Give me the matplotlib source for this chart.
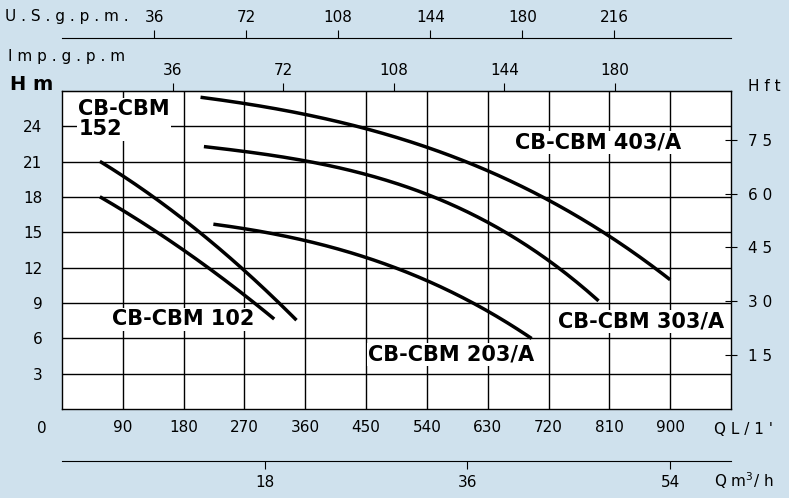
import matplotlib
matplotlib.use("Agg")
import matplotlib.pyplot as plt
import numpy as np

c403_q = [205, 300, 400, 500, 600, 700, 800, 900]
c403_h = [26.5, 25.6, 24.5, 23.0, 21.0, 18.3, 15.0, 11.0]
c303_q = [210, 300, 400, 500, 600, 700, 794]
c303_h = [22.2, 21.8, 20.6, 18.9, 16.7, 13.6, 9.1]
c203_q = [224, 300, 400, 500, 600, 695]
c203_h = [15.7, 15.0, 13.7, 11.9, 9.2, 6.0]
c152_q = [56, 180, 270, 347]
c152_h = [21.0, 16.2, 11.6, 7.6]
c102_q = [56, 180, 250, 314]
c102_h = [18.0, 13.6, 10.4, 7.7]

x_ticks = [90, 180, 270, 360, 450, 540, 630, 720, 810, 900]
y_ticks = [3, 6, 9, 12, 15, 18, 21, 24]
ft_ticks = [15, 30, 45, 60, 75]
imp_ticks = [36, 72, 108, 144, 180]
us_ticks = [36, 72, 108, 144, 180, 216]
m3_ticks = [18, 36, 54]

bg = "#cfe1ed"
fig = plt.figure(figsize=(7.89, 4.98), dpi=100, facecolor=bg)
ax = fig.add_axes([62/789, (498-409)/498, 669/789, 318/498])
ax.set_facecolor("white")
ax.set_xlim(0, 990)
ax.set_ylim(0, 27)
ax.set_xticks(x_ticks)
ax.set_yticks(y_ticks)
ax.grid(True, color="black", lw=1.0)
for s in ax.spines.values():
    s.set_linewidth(1.0)
ax.tick_params(axis="both", labelsize=11, length=0, pad=8)
ax.tick_params(axis="y", pad=14)

def smooth(q, h):
    qq = np.linspace(q[0], q[-1], 200)
    deg = 3 if len(q) > 4 else 2
    p = np.polyfit(q, h, deg)
    return qq, np.polyval(p, qq)

for q, h in [(c403_q, c403_h), (c303_q, c303_h), (c203_q, c203_h), (c152_q, c152_h), (c102_q, c102_h)]:
    qq, hh = smooth(q, h)
    ax.plot(qq, hh, color="black", lw=2.5, solid_capstyle="butt", zorder=5)

lab = dict(fontsize=15, fontweight="bold", color="black", zorder=4, ha="left", va="center",
           bbox=dict(facecolor="white", edgecolor="none", pad=1))
ax.text(24, 24.6, "CB-CBM\n152", linespacing=1.0, **lab)
ax.text(670, 22.6, "CB-CBM 403/A", **lab)
ax.text(734, 7.4, "CB-CBM 303/A", **lab)
ax.text(453, 4.6, "CB-CBM 203/A", **lab)
ax.text(74, 7.6, "CB-CBM 102", **lab)

ft2m = lambda f: f * 0.3048
m2ft = lambda m: m / 0.3048
r = ax.secondary_yaxis("right", functions=(m2ft, ft2m))
r.set_yticks(ft_ticks)
r.set_yticklabels(["1 5", "3 0", "4 5", "6 0", "7 5"])
r.tick_params(labelsize=11, length=8, direction="inout", pad=8)
r.spines["right"].set_visible(False)

t = ax.secondary_xaxis("top", functions=(lambda q: q/4.546, lambda g: g*4.546))
t.set_xticks(imp_ticks)
t.tick_params(labelsize=11, length=6, direction="out", pad=3)

u = ax.secondary_xaxis((409-38)/318, functions=(lambda q: q/3.785, lambda g: g*3.785))
u.set_xticks(us_ticks)
u.tick_params(labelsize=11, length=6, direction="out", pad=3)

b = ax.secondary_xaxis(-(461-409)/318, functions=(lambda q: q*0.06, lambda m: m/0.06))
b.set_xticks(m3_ticks)
b.tick_params(labelsize=11, length=6, direction="out", pad=4)

ft = dict(fontsize=11, color="black")
fig.text(5/789, 1-17/498, "U . S . g . p . m .", va="center", ha="left", **ft)
fig.text(8/789, 1-57/498, "I m p . g . p . m", va="center", ha="left", **ft)
fig.text(10/789, 1-84/498, "H m", va="center", ha="left", fontsize=14, fontweight="bold")
fig.text(748/789, 1-86/498, "H f t", va="center", ha="left", **ft)
fig.text(42/789, 1-428/498, "0", va="center", ha="center", **ft)
fig.text(714/789, 1-430/498, "Q L / 1 '", va="center", ha="left", **ft)
fig.text(714/789, 1-481/498, "Q m$^3$/ h", va="center", ha="left", **ft)

fig.savefig("out.png", dpi=100, facecolor=bg)
